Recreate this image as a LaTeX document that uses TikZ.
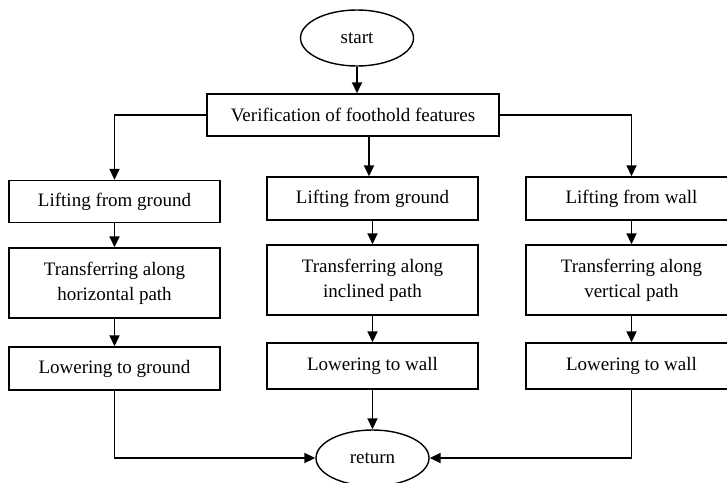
\documentclass[tikz,border=0pt]{standalone}
\usepackage{fontspec}
\setmainfont{Liberation Serif}
\usetikzlibrary{arrows.meta,shapes.geometric,calc}
\begin{document}
\begin{tikzpicture}[x=1pt,y=-1pt,
  font=\fontsize{19}{25}\selectfont,
  stepbox/.style={draw,line width=1.4pt,rectangle,align=center,inner sep=0pt,minimum width=211pt},
  termnode/.style={draw,line width=1.4pt,ellipse,inner sep=0pt,minimum width=113pt,minimum height=56pt},
  conn/.style={line width=1.8pt,-{Triangle[length=11pt,width=10pt]}}]
\useasboundingbox (0,0) rectangle (727,482);
\clip (0,0) rectangle (727,482);
\fill[white] (0,0) rectangle (727,482);
\node[termnode] (start) at (357,38) {start};
\node[stepbox,minimum width=292pt,minimum height=42pt] (verif) at (353,115) {Verification of foothold features};
% left column
\node[stepbox,minimum height=42pt] (llift) at (114.5,201.5) {Lifting from ground};
\node[stepbox,minimum height=70pt] (ltrans) at (114.5,283) {Transferring along\\horizontal path};
\node[stepbox,minimum height=43pt] (llow) at (114.5,368.5) {Lowering to ground};
% middle column
\node[stepbox,minimum height=43pt] (mlift) at (372.5,198.5) {Lifting from ground};
\node[stepbox,minimum height=70pt] (mtrans) at (372.5,280) {Transferring along\\inclined path};
\node[stepbox,minimum height=46pt] (mlow) at (372.5,366) {Lowering to wall};
% right column
\node[stepbox,minimum height=43pt] (rlift) at (631.5,198.5) {Lifting from wall};
\node[stepbox,minimum height=70pt] (rtrans) at (631.5,280) {Transferring along\\vertical path};
\node[stepbox,minimum height=46pt] (rlow) at (631.5,366) {Lowering to wall};
\node[termnode] (ret) at (372.5,458) {return};
% connectors
\draw[conn] (start.south -| 357,0) -- (verif.north -| 357,0);
\draw[conn] (verif.west) -| (llift.north);
\draw[conn] (verif.east) -| (rlift.north);
\draw[conn] ($(verif.south -| mlift.north)+(-3.5,0)$) -- ($(mlift.north)+(-3.5,0)$);
\draw[conn] (llift) -- (ltrans);
\draw[conn] (ltrans) -- (llow);
\draw[conn] (mlift) -- (mtrans);
\draw[conn] (mtrans) -- (mlow);
\draw[conn] (rlift) -- (rtrans);
\draw[conn] (rtrans) -- (rlow);
\draw[conn] (llow.south) |- (ret.west);
\draw[conn] (rlow.south) |- (ret.east);
\draw[conn] (mlow.south) -- (ret.north);
\end{tikzpicture}
\end{document}
